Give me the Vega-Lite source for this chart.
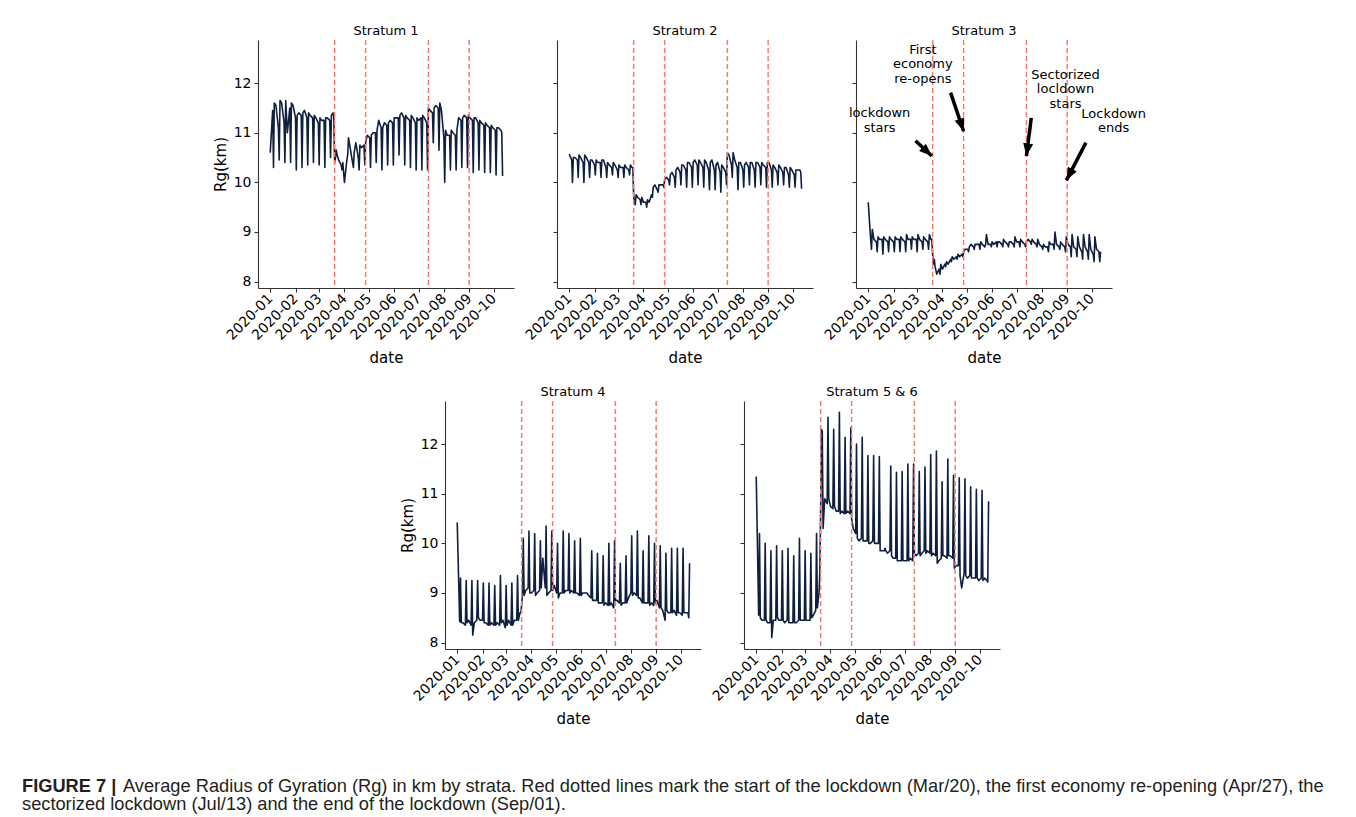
{
"$schema": "https://vega.github.io/schema/vega-lite/v6.json",
"padding": {"left": 22, "top": 25, "right": 5, "bottom": 5},
"background": "white",
"datasets": {
"ev": [{"d":"2020-03-20"},{"d":"2020-04-27"},{"d":"2020-07-13"},{"d":"2020-09-01"}],
"ann": [{"d":"2020-01-15","v":11.39,"t":"lockdown\nstars"},{"d":"2020-03-08","v":12.67,"t":"First\neconomy\nre-opens"},{"d":"2020-08-30","v":12.17,"t":"Sectorized\nlocldown\nstars"},{"d":"2020-10-28","v":11.38,"t":"Lockdown\nends"}],
"arr": [{"id":1,"d1":"2020-02-28","v1":10.84,"d2":"2020-03-19","v2":10.53},{"id":2,"d1":"2020-04-11","v1":11.81,"d2":"2020-04-27","v2":11.03},{"id":3,"d1":"2020-07-19","v1":11.3,"d2":"2020-07-13","v2":10.53},{"id":4,"d1":"2020-09-24","v1":10.8,"d2":"2020-08-31","v2":10.04}],
"cap": [{"line":1,"part":"b","t":"FIGURE 7 |"},{"line":1,"part":"n1","t":"Average Radius of Gyration (Rg) in km by strata. Red dotted lines mark the start of the lockdown (Mar/20), the first economy re-opening (Apr/27), the"},{"line":2,"part":"n2","t":"sectorized lockdown (Jul/13) and the end of the lockdown (Sep/01)."}],
"s1": [{"d":"2020-01-01","v":10.6},
{"d":"2020-01-04","v":11.45},{"d":"2020-01-05","v":10.3},{"d":"2020-01-06","v":11.6},{"d":"2020-01-08","v":11.55},
{"d":"2020-01-11","v":11.1},{"d":"2020-01-12","v":10.45},{"d":"2020-01-13","v":11.65},{"d":"2020-01-15","v":11.6},
{"d":"2020-01-18","v":11.2},{"d":"2020-01-19","v":10.4},{"d":"2020-01-20","v":11.65},{"d":"2020-01-22","v":11.0},
{"d":"2020-01-25","v":11.5},{"d":"2020-01-26","v":10.4},{"d":"2020-01-27","v":11.6},{"d":"2020-01-29","v":11.55},
{"d":"2020-02-01","v":11.3},{"d":"2020-02-02","v":10.25},{"d":"2020-02-03","v":11.35},{"d":"2020-02-05","v":11.4},
{"d":"2020-02-08","v":11.35},{"d":"2020-02-09","v":10.3},{"d":"2020-02-10","v":11.4},{"d":"2020-02-12","v":11.45},
{"d":"2020-02-15","v":11.3},{"d":"2020-02-16","v":10.35},{"d":"2020-02-17","v":11.4},{"d":"2020-02-19","v":11.35},
{"d":"2020-02-22","v":11.3},{"d":"2020-02-23","v":10.4},{"d":"2020-02-24","v":11.35},{"d":"2020-02-26","v":11.3},
{"d":"2020-02-29","v":11.2},{"d":"2020-03-01","v":10.35},{"d":"2020-03-02","v":11.3},{"d":"2020-03-04","v":11.25},
{"d":"2020-03-07","v":11.25},{"d":"2020-03-08","v":10.3},{"d":"2020-03-09","v":11.3},{"d":"2020-03-11","v":11.3},
{"d":"2020-03-14","v":11.25},{"d":"2020-03-15","v":10.5},{"d":"2020-03-16","v":11.35},{"d":"2020-03-18","v":11.4},
{"d":"2020-03-19","v":11.3},{"d":"2020-03-20","v":10.4},
{"d":"2020-03-21","v":10.5},{"d":"2020-03-22","v":10.65},{"d":"2020-03-23","v":10.55},{"d":"2020-03-25","v":10.45},
{"d":"2020-03-28","v":10.35},{"d":"2020-03-29","v":10.25},{"d":"2020-03-30","v":10.4},{"d":"2020-04-01","v":10.0},
{"d":"2020-04-04","v":10.45},{"d":"2020-04-05","v":10.55},{"d":"2020-04-06","v":10.9},{"d":"2020-04-08","v":10.7},
{"d":"2020-04-11","v":10.4},{"d":"2020-04-12","v":10.3},{"d":"2020-04-13","v":10.6},{"d":"2020-04-15","v":10.8},
{"d":"2020-04-18","v":10.5},{"d":"2020-04-19","v":10.25},{"d":"2020-04-20","v":10.75},{"d":"2020-04-22","v":10.7},
{"d":"2020-04-25","v":10.75},{"d":"2020-04-26","v":10.35},{"d":"2020-04-27","v":10.8},{"d":"2020-04-29","v":10.95},
{"d":"2020-05-02","v":10.9},{"d":"2020-05-03","v":10.3},{"d":"2020-05-04","v":10.95},{"d":"2020-05-06","v":11.0},
{"d":"2020-05-09","v":11.0},{"d":"2020-05-10","v":10.4},{"d":"2020-05-11","v":11.05},{"d":"2020-05-13","v":11.25},
{"d":"2020-05-16","v":11.1},{"d":"2020-05-17","v":10.25},{"d":"2020-05-18","v":11.1},{"d":"2020-05-20","v":11.2},
{"d":"2020-05-23","v":11.15},{"d":"2020-05-24","v":10.35},{"d":"2020-05-25","v":11.2},{"d":"2020-05-27","v":11.25},
{"d":"2020-05-30","v":11.2},{"d":"2020-05-31","v":10.35},{"d":"2020-06-01","v":11.3},{"d":"2020-06-03","v":11.3},
{"d":"2020-06-06","v":11.3},{"d":"2020-06-07","v":10.55},{"d":"2020-06-08","v":11.35},{"d":"2020-06-10","v":11.4},
{"d":"2020-06-13","v":11.3},{"d":"2020-06-14","v":10.35},{"d":"2020-06-15","v":11.35},{"d":"2020-06-17","v":11.3},
{"d":"2020-06-20","v":11.25},{"d":"2020-06-21","v":10.3},{"d":"2020-06-22","v":11.35},{"d":"2020-06-24","v":11.3},
{"d":"2020-06-27","v":11.2},{"d":"2020-06-28","v":10.25},{"d":"2020-06-29","v":11.3},{"d":"2020-07-01","v":11.25},
{"d":"2020-07-04","v":11.3},{"d":"2020-07-05","v":10.25},{"d":"2020-07-06","v":11.35},{"d":"2020-07-08","v":11.3},
{"d":"2020-07-11","v":11.2},{"d":"2020-07-12","v":10.25},{"d":"2020-07-13","v":11.5},{"d":"2020-07-15","v":11.45},
{"d":"2020-07-18","v":11.4},{"d":"2020-07-19","v":10.8},{"d":"2020-07-20","v":11.5},{"d":"2020-07-22","v":11.55},
{"d":"2020-07-25","v":11.5},{"d":"2020-07-26","v":10.65},{"d":"2020-07-27","v":11.6},{"d":"2020-07-29","v":11.45},
{"d":"2020-08-01","v":10.9},{"d":"2020-08-02","v":10.0},{"d":"2020-08-03","v":11.05},{"d":"2020-08-05","v":10.95},
{"d":"2020-08-08","v":10.95},{"d":"2020-08-09","v":10.25},{"d":"2020-08-10","v":11.05},{"d":"2020-08-12","v":11.0},
{"d":"2020-08-15","v":10.95},{"d":"2020-08-16","v":10.25},{"d":"2020-08-17","v":11.05},{"d":"2020-08-19","v":11.3},
{"d":"2020-08-22","v":11.25},{"d":"2020-08-23","v":10.3},{"d":"2020-08-24","v":11.3},{"d":"2020-08-26","v":11.35},
{"d":"2020-08-29","v":11.3},{"d":"2020-08-30","v":10.3},{"d":"2020-08-31","v":11.35},{"d":"2020-09-02","v":11.3},
{"d":"2020-09-05","v":11.25},{"d":"2020-09-06","v":10.2},{"d":"2020-09-07","v":11.3},{"d":"2020-09-09","v":11.3},
{"d":"2020-09-12","v":11.2},{"d":"2020-09-13","v":10.25},{"d":"2020-09-14","v":11.25},{"d":"2020-09-16","v":11.2},
{"d":"2020-09-19","v":11.15},{"d":"2020-09-20","v":10.2},{"d":"2020-09-21","v":11.2},{"d":"2020-09-23","v":11.15},
{"d":"2020-09-26","v":11.1},{"d":"2020-09-27","v":10.2},{"d":"2020-09-28","v":11.15},{"d":"2020-09-30","v":11.1},
{"d":"2020-10-03","v":11.05},{"d":"2020-10-04","v":10.15},{"d":"2020-10-05","v":11.1},{"d":"2020-10-07","v":11.1},
{"d":"2020-10-10","v":11.05},{"d":"2020-10-11","v":11.0},{"d":"2020-10-12","v":10.13}],
"s2": [{"d":"2020-01-01","v":10.57},
{"d":"2020-01-04","v":10.45},{"d":"2020-01-05","v":10.0},{"d":"2020-01-06","v":10.5},{"d":"2020-01-08","v":10.5},
{"d":"2020-01-11","v":10.45},{"d":"2020-01-12","v":10.1},{"d":"2020-01-13","v":10.55},{"d":"2020-01-15","v":10.5},
{"d":"2020-01-18","v":10.4},{"d":"2020-01-19","v":10.0},{"d":"2020-01-20","v":10.55},{"d":"2020-01-22","v":10.5},
{"d":"2020-01-25","v":10.4},{"d":"2020-01-26","v":10.1},{"d":"2020-01-27","v":10.45},{"d":"2020-01-29","v":10.45},
{"d":"2020-02-01","v":10.35},{"d":"2020-02-02","v":10.15},{"d":"2020-02-03","v":10.45},{"d":"2020-02-05","v":10.4},
{"d":"2020-02-08","v":10.4},{"d":"2020-02-09","v":10.1},{"d":"2020-02-10","v":10.45},{"d":"2020-02-12","v":10.45},
{"d":"2020-02-15","v":10.3},{"d":"2020-02-16","v":10.1},{"d":"2020-02-17","v":10.4},{"d":"2020-02-19","v":10.35},
{"d":"2020-02-22","v":10.3},{"d":"2020-02-23","v":10.15},{"d":"2020-02-24","v":10.4},{"d":"2020-02-26","v":10.35},
{"d":"2020-02-29","v":10.25},{"d":"2020-03-01","v":10.1},{"d":"2020-03-02","v":10.35},{"d":"2020-03-04","v":10.3},
{"d":"2020-03-07","v":10.3},{"d":"2020-03-08","v":10.1},{"d":"2020-03-09","v":10.35},{"d":"2020-03-11","v":10.3},
{"d":"2020-03-14","v":10.25},{"d":"2020-03-15","v":10.15},{"d":"2020-03-16","v":10.35},{"d":"2020-03-18","v":10.3},
{"d":"2020-03-19","v":10.3},{"d":"2020-03-20","v":9.75},
{"d":"2020-03-21","v":9.6},{"d":"2020-03-22","v":9.55},{"d":"2020-03-23","v":9.75},{"d":"2020-03-25","v":9.7},
{"d":"2020-03-28","v":9.65},{"d":"2020-03-29","v":9.55},{"d":"2020-03-30","v":9.7},{"d":"2020-04-01","v":9.6},
{"d":"2020-04-04","v":9.6},{"d":"2020-04-05","v":9.5},{"d":"2020-04-06","v":9.65},{"d":"2020-04-08","v":9.6},
{"d":"2020-04-11","v":9.75},{"d":"2020-04-12","v":9.7},{"d":"2020-04-13","v":9.9},{"d":"2020-04-15","v":9.95},
{"d":"2020-04-18","v":9.85},{"d":"2020-04-19","v":9.8},{"d":"2020-04-20","v":9.95},{"d":"2020-04-22","v":9.95},
{"d":"2020-04-25","v":9.95},{"d":"2020-04-26","v":9.9},{"d":"2020-04-27","v":10.05},{"d":"2020-04-29","v":10.1},
{"d":"2020-05-02","v":10.05},{"d":"2020-05-03","v":9.95},{"d":"2020-05-04","v":10.15},{"d":"2020-05-06","v":10.2},
{"d":"2020-05-09","v":10.1},{"d":"2020-05-10","v":9.9},{"d":"2020-05-11","v":10.25},{"d":"2020-05-13","v":10.3},
{"d":"2020-05-16","v":10.2},{"d":"2020-05-17","v":9.95},{"d":"2020-05-18","v":10.35},{"d":"2020-05-20","v":10.35},
{"d":"2020-05-23","v":10.25},{"d":"2020-05-24","v":9.9},{"d":"2020-05-25","v":10.4},{"d":"2020-05-27","v":10.4},
{"d":"2020-05-30","v":10.3},{"d":"2020-05-31","v":9.9},{"d":"2020-06-01","v":10.4},{"d":"2020-06-03","v":10.45},
{"d":"2020-06-06","v":10.35},{"d":"2020-06-07","v":9.95},{"d":"2020-06-08","v":10.45},{"d":"2020-06-10","v":10.4},
{"d":"2020-06-13","v":10.3},{"d":"2020-06-14","v":9.9},{"d":"2020-06-15","v":10.45},{"d":"2020-06-17","v":10.4},
{"d":"2020-06-20","v":10.25},{"d":"2020-06-21","v":9.85},{"d":"2020-06-22","v":10.4},{"d":"2020-06-24","v":10.45},
{"d":"2020-06-27","v":10.25},{"d":"2020-06-28","v":9.85},{"d":"2020-06-29","v":10.35},{"d":"2020-07-01","v":10.4},
{"d":"2020-07-04","v":10.2},{"d":"2020-07-05","v":9.8},{"d":"2020-07-06","v":10.35},{"d":"2020-07-08","v":10.3},
{"d":"2020-07-11","v":10.2},{"d":"2020-07-12","v":9.95},{"d":"2020-07-13","v":10.6},{"d":"2020-07-15","v":10.55},
{"d":"2020-07-18","v":10.35},{"d":"2020-07-19","v":10.1},{"d":"2020-07-20","v":10.6},{"d":"2020-07-22","v":10.45},
{"d":"2020-07-25","v":10.3},{"d":"2020-07-26","v":9.85},{"d":"2020-07-27","v":10.4},{"d":"2020-07-29","v":10.4},
{"d":"2020-08-01","v":10.25},{"d":"2020-08-02","v":9.9},{"d":"2020-08-03","v":10.35},{"d":"2020-08-05","v":10.4},
{"d":"2020-08-08","v":10.3},{"d":"2020-08-09","v":9.95},{"d":"2020-08-10","v":10.4},{"d":"2020-08-12","v":10.4},
{"d":"2020-08-15","v":10.25},{"d":"2020-08-16","v":9.9},{"d":"2020-08-17","v":10.4},{"d":"2020-08-19","v":10.4},
{"d":"2020-08-22","v":10.3},{"d":"2020-08-23","v":9.95},{"d":"2020-08-24","v":10.4},{"d":"2020-08-26","v":10.35},
{"d":"2020-08-29","v":10.3},{"d":"2020-08-30","v":9.9},{"d":"2020-08-31","v":10.4},{"d":"2020-09-02","v":10.4},
{"d":"2020-09-05","v":10.25},{"d":"2020-09-06","v":9.9},{"d":"2020-09-07","v":10.35},{"d":"2020-09-09","v":10.3},
{"d":"2020-09-12","v":10.2},{"d":"2020-09-13","v":9.95},{"d":"2020-09-14","v":10.35},{"d":"2020-09-16","v":10.3},
{"d":"2020-09-19","v":10.2},{"d":"2020-09-20","v":9.95},{"d":"2020-09-21","v":10.3},{"d":"2020-09-23","v":10.3},
{"d":"2020-09-26","v":10.15},{"d":"2020-09-27","v":9.9},{"d":"2020-09-28","v":10.3},{"d":"2020-09-30","v":10.25},
{"d":"2020-10-03","v":10.15},{"d":"2020-10-04","v":9.9},{"d":"2020-10-05","v":10.25},{"d":"2020-10-07","v":10.25},
{"d":"2020-10-10","v":10.25},{"d":"2020-10-11","v":10.2},{"d":"2020-10-12","v":9.87}],
"s3": [{"d":"2020-01-01","v":9.6},
{"d":"2020-01-04","v":8.85},{"d":"2020-01-05","v":8.65},{"d":"2020-01-06","v":9.05},{"d":"2020-01-08","v":8.85},
{"d":"2020-01-11","v":8.8},{"d":"2020-01-12","v":8.6},{"d":"2020-01-13","v":8.9},{"d":"2020-01-15","v":8.85},
{"d":"2020-01-18","v":8.85},{"d":"2020-01-19","v":8.55},{"d":"2020-01-20","v":8.9},{"d":"2020-01-22","v":8.85},
{"d":"2020-01-25","v":8.8},{"d":"2020-01-26","v":8.6},{"d":"2020-01-27","v":8.9},{"d":"2020-01-29","v":8.85},
{"d":"2020-02-01","v":8.8},{"d":"2020-02-02","v":8.6},{"d":"2020-02-03","v":8.9},{"d":"2020-02-05","v":8.85},
{"d":"2020-02-08","v":8.85},{"d":"2020-02-09","v":8.6},{"d":"2020-02-10","v":8.9},{"d":"2020-02-12","v":8.85},
{"d":"2020-02-15","v":8.8},{"d":"2020-02-16","v":8.6},{"d":"2020-02-17","v":8.95},{"d":"2020-02-19","v":8.85},
{"d":"2020-02-22","v":8.85},{"d":"2020-02-23","v":8.65},{"d":"2020-02-24","v":8.9},{"d":"2020-02-26","v":8.85},
{"d":"2020-02-29","v":8.85},{"d":"2020-03-01","v":8.6},{"d":"2020-03-02","v":8.95},{"d":"2020-03-04","v":8.85},
{"d":"2020-03-07","v":8.8},{"d":"2020-03-08","v":8.65},{"d":"2020-03-09","v":8.9},{"d":"2020-03-11","v":8.85},
{"d":"2020-03-14","v":8.8},{"d":"2020-03-15","v":8.65},{"d":"2020-03-16","v":8.95},{"d":"2020-03-18","v":8.85},
{"d":"2020-03-19","v":8.85},{"d":"2020-03-20","v":8.55},
{"d":"2020-03-21","v":8.35},{"d":"2020-03-22","v":8.45},{"d":"2020-03-23","v":8.3},{"d":"2020-03-25","v":8.15},
{"d":"2020-03-28","v":8.25},{"d":"2020-03-29","v":8.15},{"d":"2020-03-30","v":8.35},{"d":"2020-04-01","v":8.25},
{"d":"2020-04-04","v":8.35},{"d":"2020-04-05","v":8.3},{"d":"2020-04-06","v":8.4},{"d":"2020-04-08","v":8.35},
{"d":"2020-04-11","v":8.45},{"d":"2020-04-12","v":8.4},{"d":"2020-04-13","v":8.5},{"d":"2020-04-15","v":8.45},
{"d":"2020-04-18","v":8.5},{"d":"2020-04-19","v":8.45},{"d":"2020-04-20","v":8.55},{"d":"2020-04-22","v":8.5},
{"d":"2020-04-25","v":8.55},{"d":"2020-04-26","v":8.5},{"d":"2020-04-27","v":8.6},{"d":"2020-04-29","v":8.65},
{"d":"2020-05-02","v":8.65},{"d":"2020-05-03","v":8.6},{"d":"2020-05-04","v":8.7},{"d":"2020-05-06","v":8.75},
{"d":"2020-05-09","v":8.7},{"d":"2020-05-10","v":8.65},{"d":"2020-05-11","v":8.75},{"d":"2020-05-13","v":8.75},
{"d":"2020-05-16","v":8.75},{"d":"2020-05-17","v":8.65},{"d":"2020-05-18","v":8.8},{"d":"2020-05-20","v":8.75},
{"d":"2020-05-23","v":8.7},{"d":"2020-05-24","v":8.75},{"d":"2020-05-25","v":8.95},{"d":"2020-05-27","v":8.75},
{"d":"2020-05-30","v":8.75},{"d":"2020-05-31","v":8.7},{"d":"2020-06-01","v":8.8},{"d":"2020-06-03","v":8.75},
{"d":"2020-06-06","v":8.8},{"d":"2020-06-07","v":8.7},{"d":"2020-06-08","v":8.8},{"d":"2020-06-10","v":8.8},
{"d":"2020-06-13","v":8.75},{"d":"2020-06-14","v":8.7},{"d":"2020-06-15","v":8.85},{"d":"2020-06-17","v":8.8},
{"d":"2020-06-20","v":8.75},{"d":"2020-06-21","v":8.7},{"d":"2020-06-22","v":8.8},{"d":"2020-06-24","v":8.8},
{"d":"2020-06-27","v":8.75},{"d":"2020-06-28","v":8.7},{"d":"2020-06-29","v":8.9},{"d":"2020-07-01","v":8.8},
{"d":"2020-07-04","v":8.8},{"d":"2020-07-05","v":8.7},{"d":"2020-07-06","v":8.85},{"d":"2020-07-08","v":8.8},
{"d":"2020-07-11","v":8.75},{"d":"2020-07-12","v":8.7},{"d":"2020-07-13","v":8.8},{"d":"2020-07-15","v":8.85},
{"d":"2020-07-18","v":8.8},{"d":"2020-07-19","v":8.75},{"d":"2020-07-20","v":8.85},{"d":"2020-07-22","v":8.8},
{"d":"2020-07-25","v":8.75},{"d":"2020-07-26","v":8.7},{"d":"2020-07-27","v":8.85},{"d":"2020-07-29","v":8.75},
{"d":"2020-08-01","v":8.7},{"d":"2020-08-02","v":8.65},{"d":"2020-08-03","v":8.75},{"d":"2020-08-05","v":8.7},
{"d":"2020-08-08","v":8.7},{"d":"2020-08-09","v":8.6},{"d":"2020-08-10","v":8.8},{"d":"2020-08-12","v":8.75},
{"d":"2020-08-15","v":8.75},{"d":"2020-08-16","v":8.65},{"d":"2020-08-17","v":9.0},{"d":"2020-08-19","v":8.75},
{"d":"2020-08-22","v":8.7},{"d":"2020-08-23","v":8.65},{"d":"2020-08-24","v":8.8},{"d":"2020-08-26","v":8.75},
{"d":"2020-08-29","v":8.7},{"d":"2020-08-30","v":8.6},{"d":"2020-08-31","v":8.9},{"d":"2020-09-02","v":8.75},
{"d":"2020-09-05","v":8.7},{"d":"2020-09-06","v":8.5},{"d":"2020-09-07","v":8.95},{"d":"2020-09-09","v":8.7},
{"d":"2020-09-12","v":8.65},{"d":"2020-09-13","v":8.5},{"d":"2020-09-14","v":8.9},{"d":"2020-09-16","v":8.7},
{"d":"2020-09-19","v":8.6},{"d":"2020-09-20","v":8.45},{"d":"2020-09-21","v":8.95},{"d":"2020-09-23","v":8.7},
{"d":"2020-09-26","v":8.6},{"d":"2020-09-27","v":8.45},{"d":"2020-09-28","v":8.95},{"d":"2020-09-30","v":8.65},
{"d":"2020-10-03","v":8.55},{"d":"2020-10-04","v":8.4},{"d":"2020-10-05","v":8.9},{"d":"2020-10-07","v":8.65},
{"d":"2020-10-10","v":8.6},{"d":"2020-10-11","v":8.4},{"d":"2020-10-12","v":8.6}],
"s4": [{"d":"2020-01-01","v":10.42},
{"d":"2020-01-04","v":8.42},{"d":"2020-01-05","v":9.3},{"d":"2020-01-06","v":8.4},{"d":"2020-01-08","v":8.4},
{"d":"2020-01-11","v":8.35},{"d":"2020-01-12","v":9.25},{"d":"2020-01-13","v":8.4},{"d":"2020-01-15","v":8.45},
{"d":"2020-01-18","v":8.35},{"d":"2020-01-19","v":9.25},{"d":"2020-01-20","v":8.15},{"d":"2020-01-22","v":8.4},
{"d":"2020-01-25","v":8.45},{"d":"2020-01-26","v":9.25},{"d":"2020-01-27","v":8.5},{"d":"2020-01-29","v":8.45},
{"d":"2020-02-01","v":8.45},{"d":"2020-02-02","v":9.2},{"d":"2020-02-03","v":8.4},{"d":"2020-02-05","v":8.4},
{"d":"2020-02-08","v":8.35},{"d":"2020-02-09","v":9.2},{"d":"2020-02-10","v":8.35},{"d":"2020-02-12","v":8.4},
{"d":"2020-02-15","v":8.35},{"d":"2020-02-16","v":9.15},{"d":"2020-02-17","v":8.35},{"d":"2020-02-19","v":8.4},
{"d":"2020-02-22","v":8.35},{"d":"2020-02-23","v":9.35},{"d":"2020-02-24","v":8.4},{"d":"2020-02-26","v":8.45},
{"d":"2020-02-29","v":8.3},{"d":"2020-03-01","v":9.15},{"d":"2020-03-02","v":8.35},{"d":"2020-03-04","v":8.45},
{"d":"2020-03-07","v":8.35},{"d":"2020-03-08","v":9.2},{"d":"2020-03-09","v":8.35},{"d":"2020-03-11","v":8.45},
{"d":"2020-03-14","v":8.45},{"d":"2020-03-15","v":9.35},{"d":"2020-03-16","v":8.45},{"d":"2020-03-18","v":8.6},
{"d":"2020-03-19","v":8.6},{"d":"2020-03-20","v":8.75},
{"d":"2020-03-21","v":9.0},{"d":"2020-03-22","v":10.1},{"d":"2020-03-23","v":8.95},{"d":"2020-03-25","v":9.05},
{"d":"2020-03-28","v":9.1},{"d":"2020-03-29","v":10.25},{"d":"2020-03-30","v":9.0},{"d":"2020-04-01","v":9.0},
{"d":"2020-04-04","v":9.05},{"d":"2020-04-05","v":10.2},{"d":"2020-04-06","v":8.95},{"d":"2020-04-08","v":9.0},
{"d":"2020-04-11","v":9.05},{"d":"2020-04-12","v":10.05},{"d":"2020-04-13","v":9.1},{"d":"2020-04-15","v":9.7},
{"d":"2020-04-18","v":9.1},{"d":"2020-04-19","v":10.35},{"d":"2020-04-20","v":8.95},{"d":"2020-04-22","v":9.0},
{"d":"2020-04-25","v":9.05},{"d":"2020-04-26","v":10.25},{"d":"2020-04-27","v":9.05},{"d":"2020-04-29","v":9.15},
{"d":"2020-05-02","v":9.0},{"d":"2020-05-03","v":10.0},{"d":"2020-05-04","v":8.9},{"d":"2020-05-06","v":9.0},
{"d":"2020-05-09","v":9.0},{"d":"2020-05-10","v":10.25},{"d":"2020-05-11","v":9.0},{"d":"2020-05-13","v":9.05},
{"d":"2020-05-16","v":9.05},{"d":"2020-05-17","v":10.2},{"d":"2020-05-18","v":9.0},{"d":"2020-05-20","v":9.05},
{"d":"2020-05-23","v":9.0},{"d":"2020-05-24","v":10.05},{"d":"2020-05-25","v":9.0},{"d":"2020-05-27","v":9.0},
{"d":"2020-05-30","v":8.95},{"d":"2020-05-31","v":10.1},{"d":"2020-06-01","v":8.95},{"d":"2020-06-03","v":9.0},
{"d":"2020-06-06","v":9.0},{"d":"2020-06-07","v":9.0},{"d":"2020-06-08","v":9.0},{"d":"2020-06-10","v":8.95},
{"d":"2020-06-13","v":8.9},{"d":"2020-06-14","v":9.85},{"d":"2020-06-15","v":8.85},{"d":"2020-06-17","v":8.85},
{"d":"2020-06-20","v":8.85},{"d":"2020-06-21","v":9.8},{"d":"2020-06-22","v":8.8},{"d":"2020-06-24","v":8.8},
{"d":"2020-06-27","v":8.8},{"d":"2020-06-28","v":9.75},{"d":"2020-06-29","v":8.75},{"d":"2020-07-01","v":8.8},
{"d":"2020-07-04","v":8.75},{"d":"2020-07-05","v":10.0},{"d":"2020-07-06","v":8.75},{"d":"2020-07-08","v":8.8},
{"d":"2020-07-11","v":8.7},{"d":"2020-07-12","v":10.05},{"d":"2020-07-13","v":8.85},{"d":"2020-07-15","v":8.85},
{"d":"2020-07-18","v":8.8},{"d":"2020-07-19","v":9.6},{"d":"2020-07-20","v":8.75},{"d":"2020-07-22","v":8.8},
{"d":"2020-07-25","v":8.8},{"d":"2020-07-26","v":9.75},{"d":"2020-07-27","v":8.8},{"d":"2020-07-29","v":8.9},
{"d":"2020-08-01","v":9.0},{"d":"2020-08-02","v":10.15},{"d":"2020-08-03","v":8.95},{"d":"2020-08-05","v":9.0},
{"d":"2020-08-08","v":8.95},{"d":"2020-08-09","v":10.25},{"d":"2020-08-10","v":8.9},{"d":"2020-08-12","v":8.9},
{"d":"2020-08-15","v":8.8},{"d":"2020-08-16","v":9.85},{"d":"2020-08-17","v":8.8},{"d":"2020-08-19","v":8.8},
{"d":"2020-08-22","v":8.8},{"d":"2020-08-23","v":10.15},{"d":"2020-08-24","v":8.75},{"d":"2020-08-26","v":8.8},
{"d":"2020-08-29","v":8.75},{"d":"2020-08-30","v":10.0},{"d":"2020-08-31","v":8.8},{"d":"2020-09-02","v":8.85},
{"d":"2020-09-05","v":8.7},{"d":"2020-09-06","v":9.95},{"d":"2020-09-07","v":8.7},{"d":"2020-09-09","v":8.65},
{"d":"2020-09-12","v":8.45},{"d":"2020-09-13","v":9.8},{"d":"2020-09-14","v":8.65},{"d":"2020-09-16","v":8.6},
{"d":"2020-09-19","v":8.6},{"d":"2020-09-20","v":9.9},{"d":"2020-09-21","v":8.6},{"d":"2020-09-23","v":8.65},
{"d":"2020-09-26","v":8.55},{"d":"2020-09-27","v":9.9},{"d":"2020-09-28","v":8.6},{"d":"2020-09-30","v":8.6},
{"d":"2020-10-03","v":8.55},{"d":"2020-10-04","v":9.9},{"d":"2020-10-05","v":8.6},{"d":"2020-10-07","v":8.6},
{"d":"2020-10-10","v":8.6},{"d":"2020-10-11","v":8.5},{"d":"2020-10-12","v":9.6}],
"s5": [{"d":"2020-01-01","v":11.35},
{"d":"2020-01-04","v":8.55},{"d":"2020-01-05","v":10.2},{"d":"2020-01-06","v":8.5},{"d":"2020-01-08","v":8.45},
{"d":"2020-01-11","v":8.45},{"d":"2020-01-12","v":10.0},{"d":"2020-01-13","v":8.45},{"d":"2020-01-15","v":8.4},
{"d":"2020-01-18","v":8.4},{"d":"2020-01-19","v":9.85},{"d":"2020-01-20","v":8.1},{"d":"2020-01-22","v":8.45},
{"d":"2020-01-25","v":8.45},{"d":"2020-01-26","v":9.95},{"d":"2020-01-27","v":8.5},{"d":"2020-01-29","v":8.45},
{"d":"2020-02-01","v":8.45},{"d":"2020-02-02","v":9.85},{"d":"2020-02-03","v":8.45},{"d":"2020-02-05","v":8.4},
{"d":"2020-02-08","v":8.45},{"d":"2020-02-09","v":9.9},{"d":"2020-02-10","v":8.4},{"d":"2020-02-12","v":8.4},
{"d":"2020-02-15","v":8.4},{"d":"2020-02-16","v":9.75},{"d":"2020-02-17","v":8.4},{"d":"2020-02-19","v":8.4},
{"d":"2020-02-22","v":8.45},{"d":"2020-02-23","v":10.1},{"d":"2020-02-24","v":8.45},{"d":"2020-02-26","v":8.45},
{"d":"2020-02-29","v":8.45},{"d":"2020-03-01","v":9.85},{"d":"2020-03-02","v":8.45},{"d":"2020-03-04","v":8.45},
{"d":"2020-03-07","v":8.45},{"d":"2020-03-08","v":9.8},{"d":"2020-03-09","v":8.5},{"d":"2020-03-11","v":8.55},
{"d":"2020-03-14","v":8.65},{"d":"2020-03-15","v":10.2},{"d":"2020-03-16","v":8.7},{"d":"2020-03-18","v":9.0},
{"d":"2020-03-19","v":9.4},{"d":"2020-03-20","v":10.6},
{"d":"2020-03-21","v":12.3},{"d":"2020-03-22","v":12.25},{"d":"2020-03-23","v":10.3},{"d":"2020-03-25","v":10.9},
{"d":"2020-03-28","v":10.8},{"d":"2020-03-29","v":12.54},{"d":"2020-03-30","v":10.9},{"d":"2020-04-01","v":10.75},
{"d":"2020-04-04","v":10.7},{"d":"2020-04-05","v":12.3},{"d":"2020-04-06","v":10.75},{"d":"2020-04-08","v":10.65},
{"d":"2020-04-11","v":10.65},{"d":"2020-04-12","v":12.64},{"d":"2020-04-13","v":10.6},{"d":"2020-04-15","v":10.65},
{"d":"2020-04-18","v":10.6},{"d":"2020-04-19","v":12.14},{"d":"2020-04-20","v":10.6},{"d":"2020-04-22","v":10.65},
{"d":"2020-04-25","v":10.6},{"d":"2020-04-26","v":12.33},{"d":"2020-04-27","v":10.5},{"d":"2020-04-29","v":10.3},
{"d":"2020-05-02","v":10.2},{"d":"2020-05-03","v":12.0},{"d":"2020-05-04","v":10.1},{"d":"2020-05-06","v":10.05},
{"d":"2020-05-09","v":10.1},{"d":"2020-05-10","v":12.14},{"d":"2020-05-11","v":10.05},{"d":"2020-05-13","v":10.05},
{"d":"2020-05-16","v":10.05},{"d":"2020-05-17","v":11.77},{"d":"2020-05-18","v":10.0},{"d":"2020-05-20","v":10.0},
{"d":"2020-05-23","v":10.05},{"d":"2020-05-24","v":11.77},{"d":"2020-05-25","v":10.0},{"d":"2020-05-27","v":10.0},
{"d":"2020-05-30","v":10.0},{"d":"2020-05-31","v":11.75},{"d":"2020-06-01","v":9.85},{"d":"2020-06-03","v":9.85},
{"d":"2020-06-06","v":9.85},{"d":"2020-06-07","v":9.9},{"d":"2020-06-08","v":9.85},{"d":"2020-06-10","v":9.8},
{"d":"2020-06-13","v":9.85},{"d":"2020-06-14","v":11.56},{"d":"2020-06-15","v":9.75},{"d":"2020-06-17","v":9.7},
{"d":"2020-06-20","v":9.7},{"d":"2020-06-21","v":11.43},{"d":"2020-06-22","v":9.65},{"d":"2020-06-24","v":9.65},
{"d":"2020-06-27","v":9.65},{"d":"2020-06-28","v":11.45},{"d":"2020-06-29","v":9.65},{"d":"2020-07-01","v":9.65},
{"d":"2020-07-04","v":9.65},{"d":"2020-07-05","v":11.6},{"d":"2020-07-06","v":9.65},{"d":"2020-07-08","v":9.7},
{"d":"2020-07-11","v":9.65},{"d":"2020-07-12","v":11.6},{"d":"2020-07-13","v":9.8},{"d":"2020-07-15","v":9.75},
{"d":"2020-07-18","v":9.8},{"d":"2020-07-19","v":11.45},{"d":"2020-07-20","v":9.75},{"d":"2020-07-22","v":9.8},
{"d":"2020-07-25","v":9.85},{"d":"2020-07-26","v":11.54},{"d":"2020-07-27","v":9.8},{"d":"2020-07-29","v":9.85},
{"d":"2020-08-01","v":9.8},{"d":"2020-08-02","v":11.79},{"d":"2020-08-03","v":9.75},{"d":"2020-08-05","v":9.8},
{"d":"2020-08-08","v":9.75},{"d":"2020-08-09","v":11.86},{"d":"2020-08-10","v":9.6},{"d":"2020-08-12","v":9.65},
{"d":"2020-08-15","v":9.7},{"d":"2020-08-16","v":11.24},{"d":"2020-08-17","v":9.75},{"d":"2020-08-19","v":9.75},
{"d":"2020-08-22","v":9.7},{"d":"2020-08-23","v":11.7},{"d":"2020-08-24","v":9.75},{"d":"2020-08-26","v":9.75},
{"d":"2020-08-29","v":9.7},{"d":"2020-08-30","v":11.37},{"d":"2020-08-31","v":9.5},{"d":"2020-09-02","v":9.55},
{"d":"2020-09-05","v":9.55},{"d":"2020-09-06","v":11.32},{"d":"2020-09-07","v":9.35},{"d":"2020-09-09","v":9.1},
{"d":"2020-09-12","v":9.4},{"d":"2020-09-13","v":11.3},{"d":"2020-09-14","v":9.35},{"d":"2020-09-16","v":9.3},
{"d":"2020-09-19","v":9.35},{"d":"2020-09-20","v":11.14},{"d":"2020-09-21","v":9.3},{"d":"2020-09-23","v":9.3},
{"d":"2020-09-26","v":9.3},{"d":"2020-09-27","v":11.09},{"d":"2020-09-28","v":9.3},{"d":"2020-09-30","v":9.25},
{"d":"2020-10-03","v":9.3},{"d":"2020-10-04","v":11.07},{"d":"2020-10-05","v":9.25},{"d":"2020-10-07","v":9.3},
{"d":"2020-10-10","v":9.25},{"d":"2020-10-11","v":9.22},{"d":"2020-10-12","v":10.85}]
},
"spacing": 20,
"vconcat": [
{"hconcat": [
  {"width": 192.3, "height": 248, "data": {"values": [{"a": 0}]}, "mark": {"type": "text", "text": ""}},
  {"width": 256, "height": 248, "title": "Stratum 1", "layer": [
    {"data": {"name": "s1"}, "mark": {"type": "line", "color": "#0e1f3f", "strokeWidth": 1.6, "strokeJoin": "round"},
     "encoding": {"x": {"field": "d", "type": "temporal", "scale": {"domain": [{"year":2019,"month":12,"date":17},{"year":2020,"month":10,"date":26}]}, "axis": {"format": "%Y-%m", "tickCount": {"interval": "month", "step": 1}, "title": "date"}},
                  "y": {"field": "v", "type": "quantitative", "scale": {"domain": [7.87, 12.87], "nice": false, "zero": false}, "axis": {"values": [8,9,10,11,12], "title": "Rg(km)"}}}},
    {"data": {"name": "ev"}, "mark": {"type": "rule", "color": "#f87c6e", "strokeDash": [5,3], "strokeWidth": 1.5},
     "encoding": {"x": {"field": "d", "type": "temporal"}}}
  ]},
  {"width": 256, "height": 248, "title": "Stratum 2", "layer": [
    {"data": {"name": "s2"}, "mark": {"type": "line", "color": "#0e1f3f", "strokeWidth": 1.6, "strokeJoin": "round"},
     "encoding": {"x": {"field": "d", "type": "temporal", "scale": {"domain": [{"year":2019,"month":12,"date":17},{"year":2020,"month":10,"date":26}]}, "axis": {"format": "%Y-%m", "tickCount": {"interval": "month", "step": 1}, "title": "date"}},
                  "y": {"field": "v", "type": "quantitative", "scale": {"domain": [7.87, 12.87], "nice": false, "zero": false}, "axis": {"values": [8,9,10,11,12], "labels": false, "title": null}}}},
    {"data": {"name": "ev"}, "mark": {"type": "rule", "color": "#f87c6e", "strokeDash": [5,3], "strokeWidth": 1.5},
     "encoding": {"x": {"field": "d", "type": "temporal"}}}
  ]},
  {"width": 256, "height": 248, "title": "Stratum 3", "layer": [
    {"data": {"name": "s3"}, "mark": {"type": "line", "color": "#0e1f3f", "strokeWidth": 1.6, "strokeJoin": "round"},
     "encoding": {"x": {"field": "d", "type": "temporal", "scale": {"domain": [{"year":2019,"month":12,"date":17},{"year":2020,"month":10,"date":26}]}, "axis": {"format": "%Y-%m", "tickCount": {"interval": "month", "step": 1}, "title": "date"}},
                  "y": {"field": "v", "type": "quantitative", "scale": {"domain": [7.87, 12.87], "nice": false, "zero": false}, "axis": {"values": [8,9,10,11,12], "labels": false, "title": null}}}},
    {"data": {"name": "ev"}, "mark": {"type": "rule", "color": "#f87c6e", "strokeDash": [5,3], "strokeWidth": 1.5},
     "encoding": {"x": {"field": "d", "type": "temporal"}}},
    {"data": {"name": "ann"}, "mark": {"type": "text", "align": "center", "baseline": "middle", "lineBreak": "\n", "lineHeight": 14.5, "font": "DejaVu Sans", "fontSize": 13, "color": "#000"},
     "encoding": {"x": {"field": "d", "type": "temporal"}, "y": {"field": "v", "type": "quantitative"}, "text": {"field": "t"}}},
    {"data": {"name": "arr"}, "mark": {"type": "rule", "color": "#000", "strokeWidth": 3.5},
     "encoding": {"x": {"field": "d1", "type": "temporal"}, "x2": {"field": "d2"}, "y": {"field": "v1", "type": "quantitative"}, "y2": {"field": "v2"}}},
    {"data": {"name": "arr"}, "transform": [{"filter": "datum.id == 1"}], "mark": {"type": "point", "shape": "M0,0L-0.55,1.4L0.55,1.4Z", "filled": true, "color": "#000", "opacity": 1, "size": 330, "angle": 133},
     "encoding": {"x": {"field": "d2", "type": "temporal"}, "y": {"field": "v2", "type": "quantitative"}}},
    {"data": {"name": "arr"}, "transform": [{"filter": "datum.id == 2"}], "mark": {"type": "point", "shape": "M0,0L-0.55,1.4L0.55,1.4Z", "filled": true, "color": "#000", "opacity": 1, "size": 330, "angle": 161},
     "encoding": {"x": {"field": "d2", "type": "temporal"}, "y": {"field": "v2", "type": "quantitative"}}},
    {"data": {"name": "arr"}, "transform": [{"filter": "datum.id == 3"}], "mark": {"type": "point", "shape": "M0,0L-0.55,1.4L0.55,1.4Z", "filled": true, "color": "#000", "opacity": 1, "size": 330, "angle": 188},
     "encoding": {"x": {"field": "d2", "type": "temporal"}, "y": {"field": "v2", "type": "quantitative"}}},
    {"data": {"name": "arr"}, "transform": [{"filter": "datum.id == 4"}], "mark": {"type": "point", "shape": "M0,0L-0.55,1.4L0.55,1.4Z", "filled": true, "color": "#000", "opacity": 1, "size": 330, "angle": 208},
     "encoding": {"x": {"field": "d2", "type": "temporal"}, "y": {"field": "v2", "type": "quantitative"}}}
  ]}
], "spacing": 43, "bounds": "flush"},
{"hconcat": [
  {"width": 380, "height": 248, "data": {"values": [{"a": 0}]}, "mark": {"type": "text", "text": ""}},
  {"width": 256, "height": 248, "title": "Stratum 4", "layer": [
    {"data": {"name": "s4"}, "mark": {"type": "line", "color": "#0e1f3f", "strokeWidth": 1.6, "strokeJoin": "round"},
     "encoding": {"x": {"field": "d", "type": "temporal", "scale": {"domain": [{"year":2019,"month":12,"date":17},{"year":2020,"month":10,"date":26}]}, "axis": {"format": "%Y-%m", "tickCount": {"interval": "month", "step": 1}, "title": "date"}},
                  "y": {"field": "v", "type": "quantitative", "scale": {"domain": [7.87, 12.87], "nice": false, "zero": false}, "axis": {"values": [8,9,10,11,12], "title": "Rg(km)"}}}},
    {"data": {"name": "ev"}, "mark": {"type": "rule", "color": "#f87c6e", "strokeDash": [5,3], "strokeWidth": 1.5},
     "encoding": {"x": {"field": "d", "type": "temporal"}}}
  ]},
  {"width": 256, "height": 248, "title": "Stratum 5 & 6", "layer": [
    {"data": {"name": "s5"}, "mark": {"type": "line", "color": "#0e1f3f", "strokeWidth": 1.6, "strokeJoin": "round"},
     "encoding": {"x": {"field": "d", "type": "temporal", "scale": {"domain": [{"year":2019,"month":12,"date":17},{"year":2020,"month":10,"date":26}]}, "axis": {"format": "%Y-%m", "tickCount": {"interval": "month", "step": 1}, "title": "date"}},
                  "y": {"field": "v", "type": "quantitative", "scale": {"domain": [7.87, 12.87], "nice": false, "zero": false}, "axis": {"values": [8,9,10,11,12], "labels": false, "title": null}}}},
    {"data": {"name": "ev"}, "mark": {"type": "rule", "color": "#f87c6e", "strokeDash": [5,3], "strokeWidth": 1.5},
     "encoding": {"x": {"field": "d", "type": "temporal"}}}
  ]}
], "spacing": 43, "bounds": "flush"},
{"width": 1310, "height": 71.8, "data": {"name": "cap"}, "layer": [
  {"transform": [{"filter": "datum.part == 'b'"}], "mark": {"type": "text", "align": "left", "baseline": "alphabetic", "font": "Liberation Sans", "fontSize": 18.25, "fontWeight": "bold", "color": "#231f20"},
   "encoding": {"x": {"datum": 0, "type": "quantitative", "scale": {"domain": [0, 1]}, "axis": null}, "y": {"field": "line", "type": "quantitative", "scale": {"domain": [-1.11, 2.31], "reverse": true}, "axis": null}, "text": {"field": "t"}}},
  {"transform": [{"filter": "datum.part == 'n1'"}], "mark": {"type": "text", "align": "left", "baseline": "alphabetic", "font": "Liberation Sans", "fontSize": 18.25, "color": "#231f20", "dx": 101},
   "encoding": {"x": {"datum": 0, "type": "quantitative"}, "y": {"field": "line", "type": "quantitative"}, "text": {"field": "t"}}},
  {"transform": [{"filter": "datum.part == 'n2'"}], "mark": {"type": "text", "align": "left", "baseline": "alphabetic", "font": "Liberation Sans", "fontSize": 18.25, "color": "#231f20"},
   "encoding": {"x": {"datum": 0, "type": "quantitative"}, "y": {"field": "line", "type": "quantitative"}, "text": {"field": "t"}}}
]}
],
"config": {
  "view": {"stroke": null},
  "font": "DejaVu Sans",
  "axis": {"grid": false, "domainColor": "#333", "tickColor": "#333", "labelColor": "#000", "titleColor": "#000", "labelFont": "DejaVu Sans", "titleFont": "DejaVu Sans", "titleFontWeight": "normal", "labelFontSize": 14, "titleFontSize": 15, "tickSize": 4, "domainWidth": 1.1, "tickWidth": 1.1},
  "axisX": {"labelAngle": -45, "labelAlign": "right", "labelBaseline": "middle", "labelPadding": 4, "titlePadding": 8, "labelOverlap": false, "labelFlush": false},
  "axisY": {"labelPadding": 3, "titlePadding": 5},
  "title": {"font": "DejaVu Sans", "fontSize": 13, "fontWeight": "normal", "color": "#000", "offset": 1}
}
}
